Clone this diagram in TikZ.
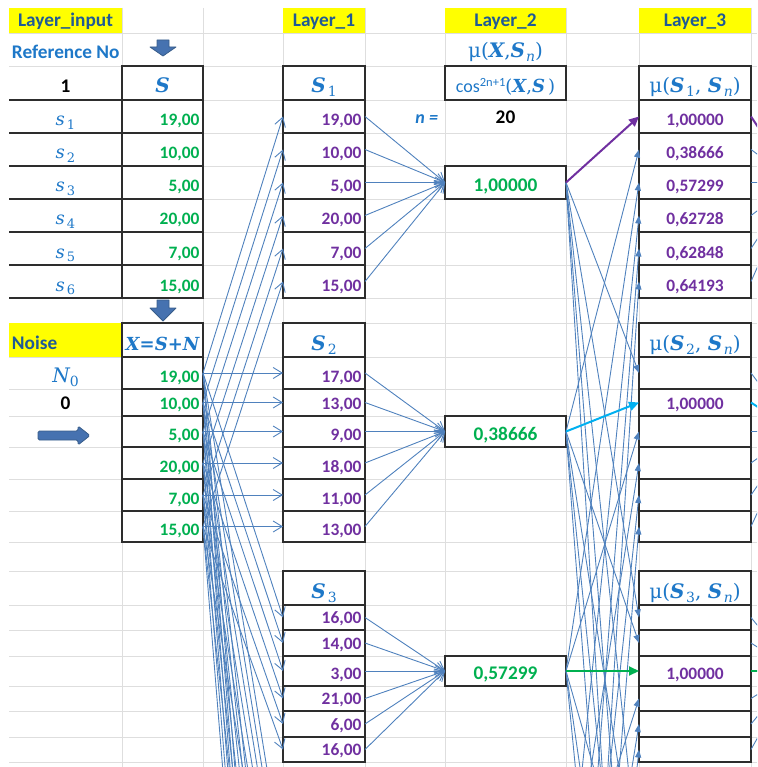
\documentclass[tikz,border=0pt]{standalone}
\usepackage{fontspec}
\setmainfont{Carlito}
\newfontfamily\srf{DejaVu Serif}
\usetikzlibrary{arrows.meta}
\definecolor{hdr}{RGB}{31,90,150}
\definecolor{lb}{RGB}{30,120,200}
\definecolor{gn}{RGB}{0,176,80}
\definecolor{pu}{RGB}{112,48,160}
\definecolor{ar}{RGB}{79,129,189}
\definecolor{cy}{RGB}{0,176,240}
\definecolor{gridc}{RGB}{222,222,222}
\definecolor{bord}{RGB}{45,45,45}
\definecolor{blkf}{RGB}{70,114,176}
\definecolor{blkd}{RGB}{56,93,138}
\definecolor{yel}{RGB}{255,255,0}
\newcommand\bi[1]{{\bfseries\itshape #1}}
\newcommand\sbs[1]{\raisebox{-3.5pt}{\fontsize{13}{13}\selectfont #1}}
\newcommand\sbm[1]{\raisebox{-4pt}{\fontsize{14}{14}\selectfont #1}}
\newcommand\cbox[5]{\node[cellbox,minimum width={#4-#2},minimum height={#5-#3}] (#1) at ({(#2+#4)/2},{(#3+#5)/2}) {};}
\begin{document}
\begin{tikzpicture}[x=1pt,y=-1pt,
 grd/.style={draw=gridc,line width=0.9},
 cellbox/.style={draw=bord,line width=1.4,fill=white,rectangle,inner sep=0,outer sep=0},
 ghostnode/.style={rectangle,inner sep=0,outer sep=0,minimum height=0},
 txt/.style={inner sep=0,outer sep=0},
 sb/.style={txt,font=\fontsize{17.4}{20}\selectfont\bfseries},
 sbig/.style={txt,font=\fontsize{19.3}{22}\selectfont\bfseries},
 gnum/.style={sb,text=gn,anchor=base east},
 pnum/.style={sb,text=pu,anchor=base east},
 pnumc/.style={sb,text=pu,anchor=base},
 gbig/.style={sbig,text=gn,anchor=base},
 hdrtxt/.style={sbig,text=hdr,anchor=base},
 srft/.style={txt,text=lb,anchor=base,font=\srf\fontsize{18}{20}\selectfont},
 srfb/.style={txt,text=lb,anchor=base,font=\srf\fontsize{20}{22}\selectfont},
 openarr/.style={draw=ar,line width=0.9,-{Straight Barb[length=9pt,width=11pt]}},
 filarr/.style={draw=ar,line width=0.9,-{Triangle[length=8pt,width=6pt]}},
 plainln/.style={draw=ar,line width=0.9},
 blockarr/.style={fill=blkf,draw=blkd,line width=0.8,line join=round},
 blackrule/.style={draw=bord,line width=1.4},
]
\useasboundingbox (0,0) rectangle (757,767);
\clip (0,0) rectangle (757,767);
% ---------- grid ----------
\foreach \y in {33,66,100,133,166,199,232,265,298,323,357,389,416,447,479,511,542,571,605,630,656,686,711,737,762}
  \draw[grd] (9,\y) -- (757,\y);
\foreach \x in {122,203,283,365,445,566,639,751}
  \draw[grd] (\x,8) -- (\x,767);
% ---------- yellow headers ----------
\fill[yel] (9,8) rectangle (122,33);
\fill[yel] (283,8) rectangle (365,33);
\fill[yel] (445,8) rectangle (566,33);
\fill[yel] (639,8) rectangle (751,33);
\fill[yel] (9,323) rectangle (122,357);
\node[hdrtxt] (hin) at (65.5,27) {Layer\_input};
\node[hdrtxt] (hl1) at (324,27) {Layer\_1};
\node[hdrtxt] (hl2) at (505.5,27) {Layer\_2};
\node[hdrtxt] (hl3) at (695,27) {Layer\_3};
\node[hdrtxt,anchor=base west] (hnoise) at (12,349) {Noise};
\node[sbig,text=lb,anchor=base west] (refno) at (12,58.5) {Reference No};
\node[sbig,anchor=base] (one) at (65.5,93) {1};
\node[srfb] (n0) at (65.5,382) {\itshape N\sbm{\upshape 0}};
\node[sbig,anchor=base] (zero) at (65.5,409) {0};
% ---------- column A rules ----------
\draw[blackrule] (9,100) -- (122,100);
% ---------- Reference column S ----------
\cbox{bs0}{122}{66}{203}{100}
\node[srfb] (tbs0) at ([yshift=7pt]bs0.south) {\bi{S}};
\foreach \i/\ya/\yb/\v in {1/100/133/{19,00},2/133/166/{10,00},3/166/199/{5,00},4/199/232/{20,00},5/232/265/{7,00},6/265/298/{15,00}} {
  \cbox{bs\i}{122}{\ya}{203}{\yb}
  \node[gnum] (tbs\i) at ([xshift=-3.5pt,yshift=7pt]bs\i.south east) {\v};
  \node[srft] (ts\i) at (65.5,\yb-7) {\itshape s\kern2pt\sbs{\upshape\i}};
  \draw[blackrule] (9,\yb) -- (122,\yb);
}
% ---------- X = S + N column ----------
\cbox{bx0}{122}{323}{203}{357}
\node[srft] (tbx0) at ([yshift=7pt]bx0.south) {\bi{X=S+N}};
\foreach \i/\ya/\yb/\v in {1/357/389/{19,00},2/389/416/{10,00},3/416/447/{5,00},4/447/479/{20,00},5/479/511/{7,00},6/511/542/{15,00}} {
  \cbox{bx\i}{122}{\ya}{203}{\yb}
  \node[gnum] (tbx\i) at ([xshift=-3.5pt,yshift=7pt]bx\i.south east) {\v};
}
% ---------- Layer 1 ----------
\cbox{d1-0}{283}{66}{365}{100}
\node[srfb] (td1-0) at ([yshift=7pt]d1-0.south) {\bi{S}\kern2pt\sbm{1}};
\foreach \i/\ya/\yb/\v in {1/100/133/{19,00},2/133/166/{10,00},3/166/199/{5,00},4/199/232/{20,00},5/232/265/{7,00},6/265/298/{15,00}} {
  \cbox{d1-\i}{283}{\ya}{365}{\yb}
  \node[pnum] (td1-\i) at ([xshift=-3.5pt,yshift=7pt]d1-\i.south east) {\v};
}
\cbox{d2-0}{283}{323}{365}{357}
\node[srfb] (td2-0) at ([yshift=7pt]d2-0.south) {\bi{S}\kern2pt\sbm{2}};
\foreach \i/\ya/\yb/\v in {1/357/389/{17,00},2/389/416/{13,00},3/416/447/{9,00},4/447/479/{18,00},5/479/511/{11,00},6/511/542/{13,00}} {
  \cbox{d2-\i}{283}{\ya}{365}{\yb}
  \node[pnum] (td2-\i) at ([xshift=-3.5pt,yshift=7pt]d2-\i.south east) {\v};
}
\cbox{d3-0}{283}{571}{365}{605}
\node[srfb] (td3-0) at ([yshift=7pt]d3-0.south) {\bi{S}\kern2pt\sbm{3}};
\foreach \i/\ya/\yb/\v in {1/605/630/{16,00},2/630/656/{14,00},3/656/686/{3,00},4/686/711/{21,00},5/711/737/{6,00},6/737/762/{16,00}} {
  \cbox{d3-\i}{283}{\ya}{365}{\yb}
  \node[pnum] (td3-\i) at ([xshift=-3.5pt,yshift=6.5pt]d3-\i.south east) {\v};
}
% ---------- Layer 2 ----------
\node[srfb] (mutop) at (505.5,57.5) {μ(\bi{X},\bi{S}\kern1pt\sbm{\itshape n})};
\cbox{fc}{445}{66}{566}{100}
\node[srft] (tfc) at ([yshift=7pt]fc.south) {{\normalfont\fontsize{18}{20}\selectfont cos\raisebox{6.5pt}{\fontsize{12.5}{12}\selectfont 2n+1}}(\bi{X},\bi{S}\,)};
\node[sbig,text=lb,anchor=base east,font=\fontsize{18}{20}\selectfont\bfseries\itshape] (nlab) at (438,124) {n =};
\node[sbig,anchor=base] (nval) at (505.5,124) {20};
\cbox{f1}{445}{166}{566}{199}
\node[gbig] (tf1) at ([yshift=7pt]f1.south) {1,00000};
\cbox{f2}{445}{416}{566}{447}
\node[gbig] (tf2) at ([yshift=7pt]f2.south) {0,38666};
\cbox{f3}{445}{656}{566}{686}
\node[gbig] (tf3) at ([yshift=7pt]f3.south) {0,57299};
% ---------- Layer 3 ----------
\cbox{h1-0}{639}{66}{751}{100}
\node[srfb] (th1-0) at ([yshift=7pt]h1-0.south) {μ(\bi{S}\kern1.5pt\sbm{1}, \bi{S}\kern1.5pt\sbm{\itshape n})};
\foreach \i/\ya/\yb/\v in {1/100/133/{1,00000},2/133/166/{0,38666},3/166/199/{0,57299},4/199/232/{0,62728},5/232/265/{0,62848},6/265/298/{0,64193}} {
  \cbox{h1-\i}{639}{\ya}{751}{\yb}
  \node[pnumc] (th1-\i) at ([yshift=7pt]h1-\i.south) {\v};
}
\cbox{h2-0}{639}{323}{751}{357}
\node[srfb] (th2-0) at ([yshift=7pt]h2-0.south) {μ(\bi{S}\kern1.5pt\sbm{2}, \bi{S}\kern1.5pt\sbm{\itshape n})};
\foreach \i/\ya/\yb in {1/357/389,2/389/416,3/416/447,4/447/479,5/479/511,6/511/542} {
  \cbox{h2-\i}{639}{\ya}{751}{\yb}
}
\node[pnumc] (th2-2) at ([yshift=7pt]h2-2.south) {1,00000};
\cbox{h3-0}{639}{571}{751}{605}
\node[srfb] (th3-0) at ([yshift=7pt]h3-0.south) {μ(\bi{S}\kern1.5pt\sbm{3}, \bi{S}\kern1.5pt\sbm{\itshape n})};
\foreach \i/\ya/\yb in {1/605/630,2/630/656,3/656/686,4/686/711,5/711/737,6/737/762} {
  \cbox{h3-\i}{639}{\ya}{751}{\yb}
}
\node[pnumc] (th3-3) at ([yshift=7pt]h3-3.south) {1,00000};
% ---------- blocks below the view (targets only) ----------
\foreach \n/\ys in {4/0,5/248,6/496} {
  \foreach \i/\yy in {1/868,2/897,3/926,4/955,5/984,6/1013} {
    \node[ghostnode,minimum width=82] (d\n-\i) at (324,\yy+\ys) {};
    \node[ghostnode,minimum width=112] (h\n-\i) at (695,\yy+\ys) {};
  }
  \node[ghostnode,minimum width=121] (f\n) at (505.5,926+\ys) {};
}
\coordinate (L1) at (795,182.5);
\coordinate (L2) at (795,431.5);
\coordinate (L3) at (795,671);
% ---------- block arrows ----------
\path[blockarr] (157,40) -- (169,40) -- (169,47) -- (176,47) -- (163,56) -- (150,47) -- (157,47) -- cycle;
\path[blockarr] (157,300) -- (169,300) -- (169,308) -- (176,308) -- (163,321) -- (150,308) -- (157,308) -- cycle;
\path[blockarr,rounded corners=1.5pt] (38,431) -- (78,431) -- (78,426) -- (90,435.5) -- (78,445) -- (78,440) -- (38,440) -- cycle;
% ---------- connectors: input -> layer 1 ----------
\foreach \n in {1,...,6} \foreach \i in {1,...,6}
  \draw[openarr] (bx\i.east) -- (d\n-\i.west);
% ---------- layer 1 -> layer 2 ----------
\foreach \n in {1,2,3} \foreach \i in {1,...,6}
  \draw[openarr] (d\n-\i.east) -- (f\n.west);
% ---------- layer 2 -> layer 3 ----------
\foreach \k in {1,...,6} \foreach \n in {1,...,6} {
  \ifnum\n=\k\relax\ifnum\k>3\relax\draw[filarr] (f\k.east) -- (h\n-\k.west);\fi
  \else\draw[filarr] (f\k.east) -- (h\n-\k.west);\fi
}
\draw[draw=pu,line width=2,-{Triangle[length=10pt,width=9pt]}] (f1.east) -- (h1-1.west);
\draw[draw=cy,line width=2,-{Triangle[length=10pt,width=9pt]}] (f2.east) -- (h2-2.west);
\draw[draw=gn,line width=2,-{Triangle[length=10pt,width=9pt]}] (f3.east) -- (h3-3.west);
% ---------- layer 3 -> next layer (leaving the view) ----------
\foreach \n in {1,2,3} \foreach \i in {1,...,6} {
  \ifnum\n=\i\relax\else\draw[plainln] (h\n-\i.east) -- (L\n);\fi
}
\draw[draw=pu,line width=2] (h1-1.east) -- (L1);
\draw[draw=cy,line width=2] (h2-2.east) -- (L2);
\draw[draw=gn,line width=2] (h3-3.east) -- (L3);
\end{tikzpicture}
\end{document}
